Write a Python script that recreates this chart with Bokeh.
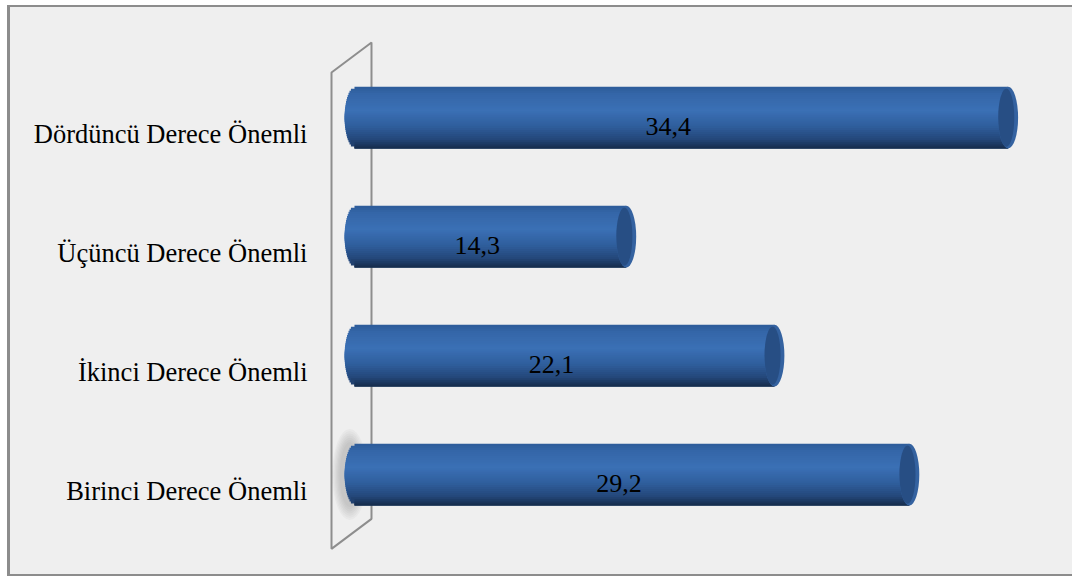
import numpy as np
from bokeh.plotting import figure
from bokeh.models import Range1d, FixedTicker
from bokeh.embed import file_html
from bokeh.resources import INLINE
from bokeh.core.properties import value

# ---- data ----
categories = ["Birinci Derece Önemli", "İkinci Derece Önemli",
              "Üçüncü Derece Önemli", "Dördüncü Derece Önemli"]
values = [29.2, 22.1, 14.3, 34.4]
value_labels = [f"{v:.1f}".replace(".", ",") for v in values]

# ---- style / geometry ----
W, H = 1065, 571
PX_PER_UNIT = 19.0
BAR_H = 0.52          # bar thickness in category units
BAR_OFF = 0.134       # bars sit slightly above the category tick
RX = 10.0 / PX_PER_UNIT   # cap semi-axis in data units
BG = "#efefef"

p = figure(width=W, height=H, output_backend="svg", toolbar_location=None,
           x_range=Range1d(-1.526, 37.684), y_range=Range1d(-0.63, 3.908),
           x_axis_location=None,
           min_border_left=315, min_border_right=5,
           min_border_top=18, min_border_bottom=13)
p.background_fill_color = None
p.border_fill_color = None
p.outline_line_color = None
p.grid.grid_line_color = None
p.styles = {"margin-left": "7px", "margin-top": "5px",
            "background-color": BG,
            "border-left": "3px solid #8c8c8c",
            "border-top": "2px solid #8c8c8c",
            "border-bottom": "2px solid #8c8c8c"}

idx = np.arange(len(categories), dtype=float)
yc = idx + BAR_OFF
vals = np.array(values, dtype=float)

# ---- back wall (3D decoration) ----
wall_x0, wall_dx, wall_dy = -1.21, 2.105, 0.252
wall_lo, wall_hi = -0.49, len(categories) - 0.487
p.patch([wall_x0, wall_x0 + wall_dx, wall_x0 + wall_dx, wall_x0],
        [wall_hi, wall_hi + wall_dy, wall_lo + wall_dy, wall_lo],
        fill_color=None, line_color="#8e8e8e", line_width=2)

# ---- soft shadow near the first bar ----
for k in range(7):
    p.ellipse(x=[-0.25], y=[yc[0]], width=RX * (2.0 + 0.25 * k),
              height=BAR_H * (1.05 + 0.07 * k),
              fill_color="#555555", fill_alpha=0.045, line_color=None)

# ---- cylinder bodies drawn in overlapping horizontal bands (gradient) ----
def lerp_color(stops, t):
    for (t0, c0), (t1, c1) in zip(stops[:-1], stops[1:]):
        if t0 <= t <= t1:
            f = (t - t0) / (t1 - t0) if t1 > t0 else 0
            a = [int(c0[i:i + 2], 16) for i in (1, 3, 5)]
            b = [int(c1[i:i + 2], 16) for i in (1, 3, 5)]
            return "#%02x%02x%02x" % tuple(round(a[j] + (b[j] - a[j]) * f) for j in range(3))
    return stops[-1][1]

stops = [(0.0, "#2d5c99"), (0.12, "#3466a8"), (0.38, "#3b70b5"),
         (0.62, "#30609f"), (0.85, "#24477a"), (1.0, "#152b4a")]
N = 30
for i in range(N):
    t0 = i / N
    t1 = min(1.0, (i + 3) / N)
    tm = (i + 0.5) / N
    top = yc + BAR_H / 2 - t0 * BAR_H
    bot = yc + BAR_H / 2 - t1 * BAR_H
    # keep the band inside the elliptical left end
    tf = t0 if abs(2 * t0 - 1) > abs(2 * t1 - 1) else t1
    left = -RX * np.sqrt(max(0.0, 1 - (2 * tf - 1) ** 2))
    p.quad(left=left, right=vals, top=top, bottom=bot,
           fill_color=lerp_color(stops, tm), line_color=None)

# ---- end caps ----
p.ellipse(x=vals, y=yc, width=2 * RX, height=BAR_H,
          fill_color="#3462a0", line_color=None)
p.ellipse(x=vals - RX * 0.18, y=yc, width=2 * RX * 0.8, height=BAR_H * 0.94,
          fill_color="#274e84", line_color=None)

# ---- value labels ----
p.text(x=vals / 2, y=yc, text=value_labels,
       text_font=value("Liberation Serif"), text_font_size="26px",
       text_color="#000000", text_align="center", text_baseline="alphabetic",
       x_offset=-13, y_offset=9)

# ---- category axis ----
ax = p.yaxis[0]
ax.ticker = FixedTicker(ticks=list(range(len(categories))))
ax.major_label_overrides = {i: c for i, c in enumerate(categories)}
ax.major_label_text_font = "Liberation Serif"
ax.major_label_text_font_size = "26.5px"
ax.major_label_text_color = "#000000"
ax.major_label_standoff = 18
ax.axis_line_color = None
ax.major_tick_line_color = None
ax.minor_tick_line_color = None
ax.major_tick_out = 0
ax.major_tick_in = 0

open("out.html", "w").write(file_html(p, INLINE))
